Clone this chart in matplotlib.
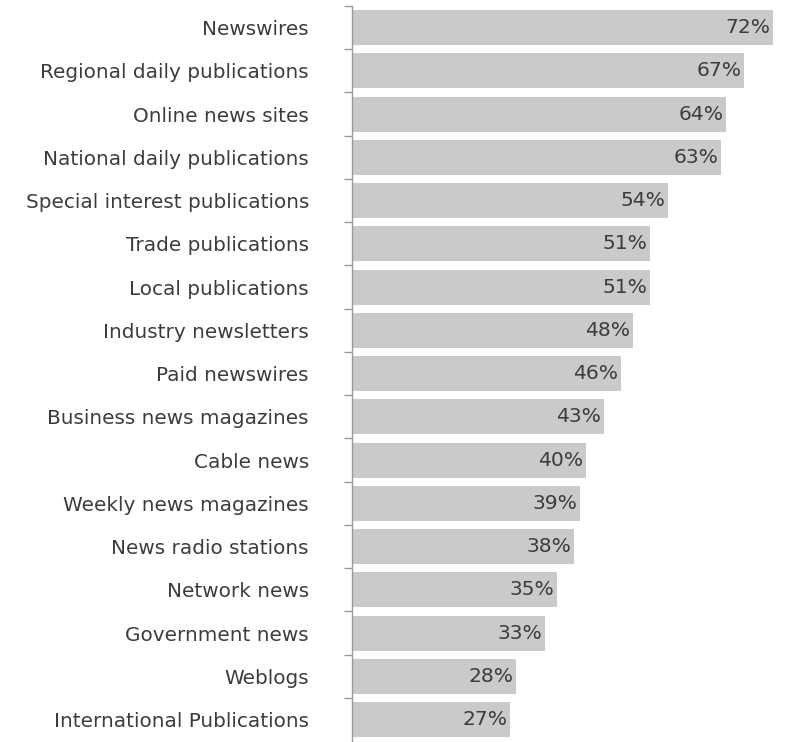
import matplotlib
matplotlib.use("Agg")
import matplotlib.pyplot as plt

sources = [
    "Newswires",
    "Regional daily publications",
    "Online news sites",
    "National daily publications",
    "Special interest publications",
    "Trade publications",
    "Local publications",
    "Industry newsletters",
    "Paid newswires",
    "Business news magazines",
    "Cable news",
    "Weekly news magazines",
    "News radio stations",
    "Network news",
    "Government news",
    "Weblogs",
    "International Publications",
]
percent = [72, 67, 64, 63, 54, 51, 51, 48, 46, 43, 40, 39, 38, 35, 33, 28, 27]

BAR_COLOR = "#c9cacc"
TEXT_COLOR = "#3c3c3c"

plt.rcParams["font.family"] = ["DejaVu Sans"]

fig = plt.figure(figsize=(8.09, 7.42), dpi=100)
ax = fig.add_axes([352 / 809, 0, 1 - 352 / 809, 1 - 6 / 742])

ypos = list(range(len(sources)))
ax.barh(ypos, percent, height=0.81, color=BAR_COLOR, edgecolor="none")

for y, v in zip(ypos, percent):
    ax.text(v - 0.45, y, f"{v}%", ha="right", va="center",
            fontsize=14.6, color=TEXT_COLOR)

ax.set_xlim(0, 78.1)
ax.set_ylim(16.52, -0.5)

# category names on the left, ticks sit between the bars
ax.set_yticks(ypos)
ax.set_yticklabels(sources, fontsize=14.4, color=TEXT_COLOR)
ax.tick_params(axis="y", which="major", length=0, pad=31)
ax.set_yticks([i - 0.5 for i in range(len(sources))], minor=True)
ax.tick_params(axis="y", which="minor", length=6, width=1, color="#9a9a9a")
ax.set_xticks([])

for side in ["top", "right", "bottom"]:
    ax.spines[side].set_visible(False)
ax.spines["left"].set_color("#9a9a9a")
ax.spines["left"].set_linewidth(1)

fig.savefig("out.png", dpi=100)
